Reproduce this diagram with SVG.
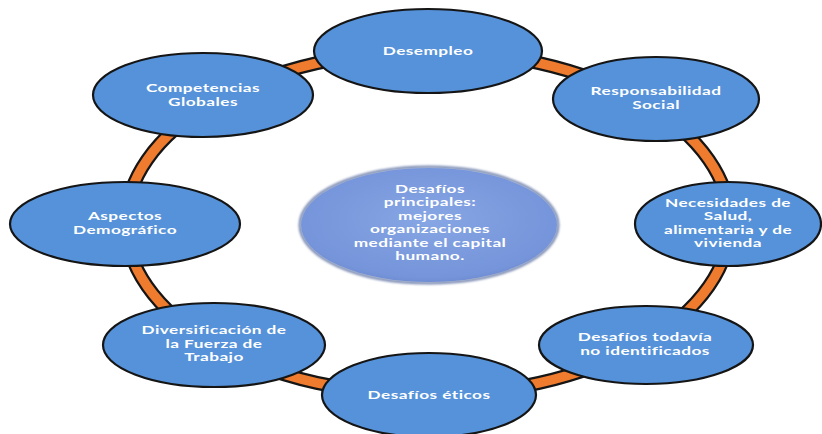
<svg xmlns="http://www.w3.org/2000/svg" width="822" height="434" viewBox="0 0 822 434">
<defs>
<radialGradient id="cg" cx="50%" cy="45%" r="60%">
<stop offset="0%" stop-color="#86a6e4"/>
<stop offset="85%" stop-color="#7594da"/>
<stop offset="100%" stop-color="#6a86c8"/>
</radialGradient>
<filter id="soft" x="-10%" y="-10%" width="120%" height="120%">
<feGaussianBlur stdDeviation="1.2"/>
</filter>
</defs>
<style>
.node{fill:#5592d9;stroke:#151515;stroke-width:2.2}
.t{font-family:Lato,"Open Sans","Liberation Sans",sans-serif;font-size:11.5px;font-weight:bold;fill:#ffffff;text-anchor:middle;letter-spacing:0.3px}
.ringo{fill:none;stroke:#151515;stroke-width:14}
.ringi{fill:none;stroke:#ee7b2e;stroke-width:9.5}
</style>
<rect width="822" height="434" fill="#ffffff"/>
<g id="connectors">
<ellipse class="ringo" cx="428" cy="223" rx="302" ry="172"/>
<ellipse class="ringi" cx="428" cy="223" rx="302" ry="172"/>
</g>
<g id="center">
<ellipse cx="429" cy="225" rx="129" ry="58" fill="none" stroke="#7f8fb5" stroke-width="3" filter="url(#soft)"/>
<ellipse cx="429" cy="225" rx="128" ry="57" fill="url(#cg)"/>
<text class="t" transform="translate(430,0) scale(1.5,1)"><tspan x="0" y="193">Desafíos</tspan><tspan x="0" y="206.5">principales:</tspan><tspan x="0" y="220">mejores</tspan><tspan x="0" y="233.5">organizaciones</tspan><tspan x="0" y="247">mediante el capital</tspan><tspan x="0" y="260.5">humano.</tspan></text>
</g>
<g id="desempleo">
<ellipse class="node" cx="428" cy="51" rx="114" ry="42"/>
<text class="t" transform="translate(428,0) scale(1.5,1)" x="0" y="55">Desempleo</text>
</g>
<g id="responsabilidad">
<ellipse class="node" cx="656" cy="99" rx="103" ry="42"/>
<text class="t" transform="translate(656,0) scale(1.5,1)"><tspan x="0" y="95.5">Responsabilidad</tspan><tspan x="0" y="109">Social</tspan></text>
</g>
<g id="necesidades">
<ellipse class="node" cx="728" cy="224" rx="93" ry="42"/>
<text class="t" transform="translate(728,0) scale(1.5,1)"><tspan x="0" y="207">Necesidades de</tspan><tspan x="0" y="220.5">Salud,</tspan><tspan x="0" y="234">alimentaria y de</tspan><tspan x="0" y="247.5">vivienda</tspan></text>
</g>
<g id="todavia">
<ellipse class="node" cx="646" cy="345" rx="107" ry="39"/>
<text class="t" transform="translate(645,0) scale(1.5,1)"><tspan x="0" y="341.5">Desafíos todavía</tspan><tspan x="0" y="355">no identificados</tspan></text>
</g>
<g id="eticos">
<ellipse class="node" cx="429" cy="395" rx="107" ry="42"/>
<text class="t" transform="translate(429,0) scale(1.5,1)" x="0" y="399">Desafíos éticos</text>
</g>
<g id="diversificacion">
<ellipse class="node" cx="214" cy="345" rx="111" ry="42"/>
<text class="t" transform="translate(214,0) scale(1.5,1)"><tspan x="0" y="334.5">Diversificación de</tspan><tspan x="0" y="348">la Fuerza de</tspan><tspan x="0" y="361.5">Trabajo</tspan></text>
</g>
<g id="aspectos">
<ellipse class="node" cx="125" cy="224" rx="115" ry="42"/>
<text class="t" transform="translate(125,0) scale(1.5,1)"><tspan x="0" y="220.5">Aspectos</tspan><tspan x="0" y="234">Demográfico</tspan></text>
</g>
<g id="competencias">
<ellipse class="node" cx="203" cy="95" rx="110" ry="42"/>
<text class="t" transform="translate(203,0) scale(1.5,1)"><tspan x="0" y="92.5">Competencias</tspan><tspan x="0" y="106">Globales</tspan></text>
</g>
</svg>
